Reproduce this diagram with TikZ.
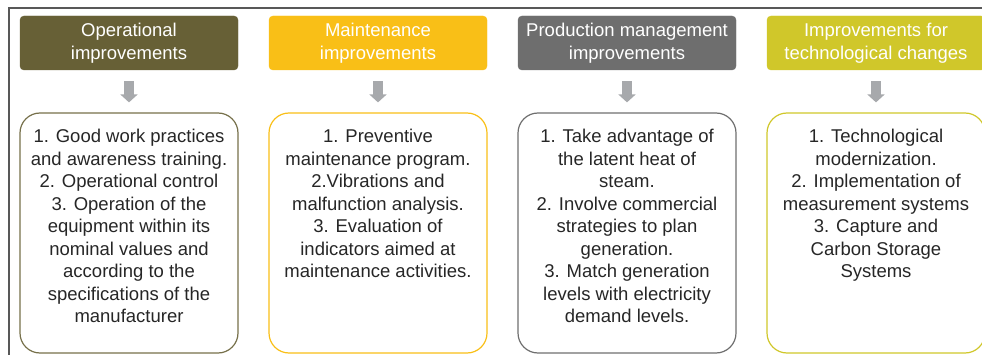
\documentclass[tikz,border=0pt]{standalone}
\usepackage{fontspec}
\setmainfont{Liberation Sans}
\usepackage{xcolor}
\usetikzlibrary{arrows.meta,positioning,calc}
\definecolor{opcol}{HTML}{676036}
\definecolor{maincol}{HTML}{F9BF17}
\definecolor{prodcol}{HTML}{6E6E6E}
\definecolor{techcol}{HTML}{D0C72A}
\definecolor{arrcol}{HTML}{A7A9AC}
\definecolor{txtcol}{HTML}{262626}
\definecolor{framecol}{HTML}{585858}

\begin{document}
\begin{tikzpicture}[x = 1pt, y = -1pt,
    head/.style = {draw = #1, fill = #1, rounded corners = 4pt, minimum width = 218pt, minimum height = 54pt,
      text = white, align = center, inner sep = 0pt, font = \fontsize{18.5}{23}\selectfont},
    panel/.style = {draw = #1, line width = 1.2pt, rounded corners = 20pt, minimum width = 218pt, minimum height = 240pt, inner sep = 0pt},
    items/.style = {anchor = north, align = center, text = txtcol, inner sep = 0pt, font = \fontsize{18.5}{22.5}\selectfont},
    down/.style = {-{Triangle[length = 8pt, width = 17pt]}, line width = 10pt, arrcol, shorten < = 11pt, shorten > = 10pt}]
    \useasboundingbox (0,0) rectangle (982,355);
    \clip (0,0) rectangle (982,355);
    \draw[framecol, line width = 1.2pt] (9,8) rectangle (1000,380);
    \node[head = opcol] (oph) at (129,43) {Operational\\improvements};
    \node[head = maincol] (mnh) at (378,43) {Maintenance\\improvements};
    \node[head = prodcol] (prh) at (627,43) {Production management\\improvements};
    \node[head = techcol] (tch) at (876,43) {Improvements for\\technological changes};
    \node[panel = opcol!90] (op) at (129,233) {};
    \node[panel = maincol] (mn) at (378,233) {};
    \node[panel = prodcol] (pr) at (627,233) {};
    \node[panel = techcol] (tc) at (876,233) {};
    \draw[down] (oph) -- (op);
    \draw[down] (mnh) -- (mn);
    \draw[down] (prh) -- (pr);
    \draw[down] (tch) -- (tc);
        % Lists
    \node[items, below = 16.5pt of op.north] (opt) {1. Good work practices\\and awareness training.\\2. Operational control\\3. Operation of the\\equipment within its\\nominal values and\\according to the\\specifications of the\\manufacturer};
    \node[items, below = 16.5pt of mn.north] (mnt) {1. Preventive\\maintenance program.\\2.Vibrations and\\malfunction analysis.\\3. Evaluation of\\indicators aimed at\\maintenance activities.};
    \node[items, below = 16.5pt of pr.north] (prt) {1. Take advantage of\\the latent heat of\\steam.\\2. Involve commercial\\strategies to plan\\generation.\\3. Match generation\\levels with electricity\\demand levels.};
    \node[items, below = 16.5pt of tc.north] (tct) {1. Technological\\modernization.\\2. Implementation of\\measurement systems\\3. Capture and\\Carbon Storage\\Systems};
\end{tikzpicture}
\end{document}
